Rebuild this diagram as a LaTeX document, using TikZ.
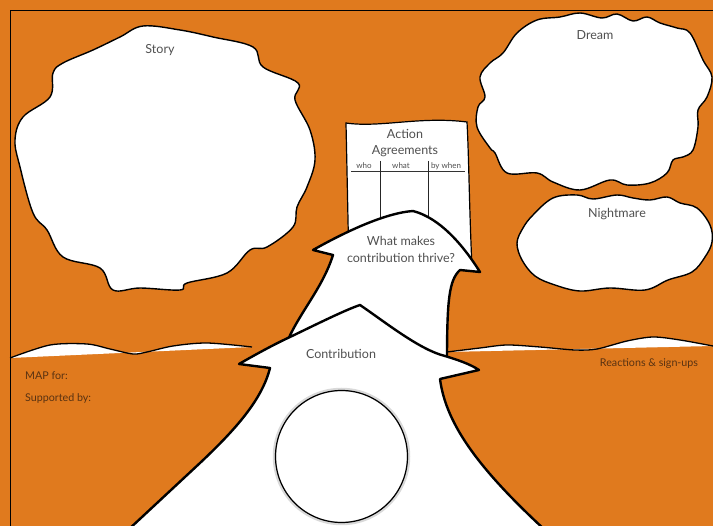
\documentclass[tikz,border=0pt]{standalone}
\usepackage{fontspec}
\setmainfont{Lato}
\definecolor{bg}{RGB}{224,122,30}
\definecolor{txtgray}{RGB}{80,80,80}
\definecolor{txtbrown}{RGB}{88,50,18}
\tikzset{
  cloudshape/.style={fill=white, draw=black, line width=1.4pt},
  bigshape/.style={draw=black, line width=2.4pt, line join=round},
  lbl/.style={text=txtgray, font=\fontsize{12.5}{14}\selectfont, inner sep=0pt},
  smalllbl/.style={text=txtgray, font=\fontsize{8}{9}\selectfont, inner sep=0pt},
  brownlbl/.style={text=txtbrown, font=\fontsize{10.7}{12}\selectfont, inner sep=0pt},
  horizon/.style={draw=black, line width=1.3pt},
}
\begin{document}
\begin{tikzpicture}[x=1pt,y=-1pt]
\useasboundingbox (0,0) rectangle (713,526);
\fill[bg] (0,0) rectangle (713,526);
% frame lines
\coordinate (c0) at (10.5,10.5);
\coordinate (ctr) at (713,10.5);
\coordinate (cbl) at (10.5,526);
\draw[line width=1.3pt] (ctr) -- (c0) -- (cbl);

% horizons
\fill[white] plot[smooth] coordinates {(10,358) (50,345) (87,344) (110,349) (133,354) (147,352) (173,346) (207,343) (252,347)} -- cycle;
\draw[horizon] plot[smooth] coordinates {(10,358) (50,345) (87,344) (110,349) (133,354) (147,352) (173,346) (207,343) (252,347)};
\fill[white] plot[smooth] coordinates {(447,352) (480,348) (507,345) (540,347) (575,350) (597,349) (627,341) (653,337) (680,340) (713,346)} -- cycle;
\draw[horizon] plot[smooth] coordinates {(447,352) (480,348) (507,345) (540,347) (575,350) (597,349) (627,341) (653,337) (680,340) (713,346)};

% Story cloud
\draw[cloudshape] plot[smooth cycle, tension=0.6] coordinates {(143,26) (180,30) (213,37) (253,47) (263,67) (298,83) (295,100) (310,130) (315,160) (307,187) (297,207) (293,227) (267,247) (250,250) (227,273) (187,283) (180,290) (140,288) (113,290) (100,268) (63,257) (47,230) (33,213) (20,167) (15,140) (23,117) (50,97) (53,73) (63,63) (93,50) (120,37)};

% Dream cloud
\draw[cloudshape] plot[smooth cycle, tension=0.6] coordinates {(537,20) (560,17) (580,13) (602,18) (617,14) (633,21) (647,17) (660,23) (677,28) (690,33) (703,60) (712,77) (707,97) (698,110) (698,127) (693,150) (683,157) (673,160) (667,173) (650,183) (627,185) (610,180) (580,190) (553,182) (537,173) (507,173) (495,153) (490,148) (477,127) (478,107) (485,97) (480,77) (490,63) (503,53) (517,33)};

% Nightmare cloud
\draw[cloudshape] plot[smooth cycle, tension=0.6] coordinates {(523,228) (533,215) (553,198) (577,195) (593,199) (617,195) (633,198) (650,200) (667,197) (680,203) (697,208) (710,225) (712,242) (705,257) (692,272) (668,280) (645,290) (610,288) (580,291) (555,285) (535,276) (522,260) (517,243)};

% Action agreements paper
\draw[fill=white, draw=black, line width=1.2pt] (346,123) .. controls (380,128) and (420,116) .. (467,122) .. controls (469,160) and (469,200) .. (472,268) -- (349,268) .. controls (348,220) and (347,170) .. cycle;
\coordinate (tl) at (351,172);
\coordinate (tr) at (465,172);
\draw[line width=1pt, black!80] (tl) -- (tr);
\coordinate (v1a) at (380,161);
\coordinate (v1b) at (380,240);
\coordinate (v2a) at (428,161);
\coordinate (v2b) at (428,240);
\draw[line width=1pt, black!85] (v1a) -- (v1b);
\draw[line width=1pt, black!85] (v2a) -- (v2b);

% upper arrow
\fill[white] (285,347) .. controls (297,315) and (322,290) .. (333,255) -- (313,250) .. controls (345,232) and (385,213) .. (413,211) .. controls (440,218) and (463,245) .. (480,272) -- (460,270) .. controls (449,280) and (447,300) .. (447,362) -- (447,370) -- (290,370) -- cycle;
\draw[bigshape] (285,347) .. controls (297,315) and (322,290) .. (333,255) -- (313,250) .. controls (345,232) and (385,213) .. (413,211) .. controls (440,218) and (463,245) .. (480,272) -- (460,270) .. controls (449,280) and (447,300) .. (447,362);

% lower arrow
\draw[bigshape, fill=white] (127,531) -- (200,463) .. controls (235,430) and (262,400) .. (270,368) -- (239,364) .. controls (260,352) and (275,344) .. (290,337) .. controls (315,325) and (345,310) .. (360,305) .. controls (385,322) and (420,350) .. (445,356) .. controls (458,360) and (470,364) .. (479,370) -- (440,379) .. controls (446,425) and (480,470) .. (546,531) -- cycle;

% circle
\draw[line width=3.5pt, black!15] (341.5,456.5) circle (67);
\draw[line width=1.2pt, black] (341.5,456.5) circle (66);

% texts
\node[lbl] (story) at (160,50) {Story};
\node[lbl] (dream) at (595,35) {Dream};
\node[lbl] (night) at (617,214) {Nightmare};
\node[lbl] (act1) at (405,134) {Action};
\node[lbl] (act2) at (405,151) {Agreements};
\node[smalllbl] (who) at (364,166) {who};
\node[smalllbl] (what) at (401,166) {what};
\node[smalllbl] (bywhen) at (446,166) {by when};
\node[lbl] (wm1) at (401,241) {What makes};
\node[lbl] (wm2) at (401,258) {contribution thrive?};
\node[lbl] (contr) at (341,354) {Contribution};
\node[brownlbl, anchor=west] (mapfor) at (25,376) {MAP for:};
\node[brownlbl, anchor=west] (supp) at (25,398) {Supported by:};
\node[brownlbl] (react) at (649,364) {Reactions \& sign-ups};
\end{tikzpicture}
\end{document}
